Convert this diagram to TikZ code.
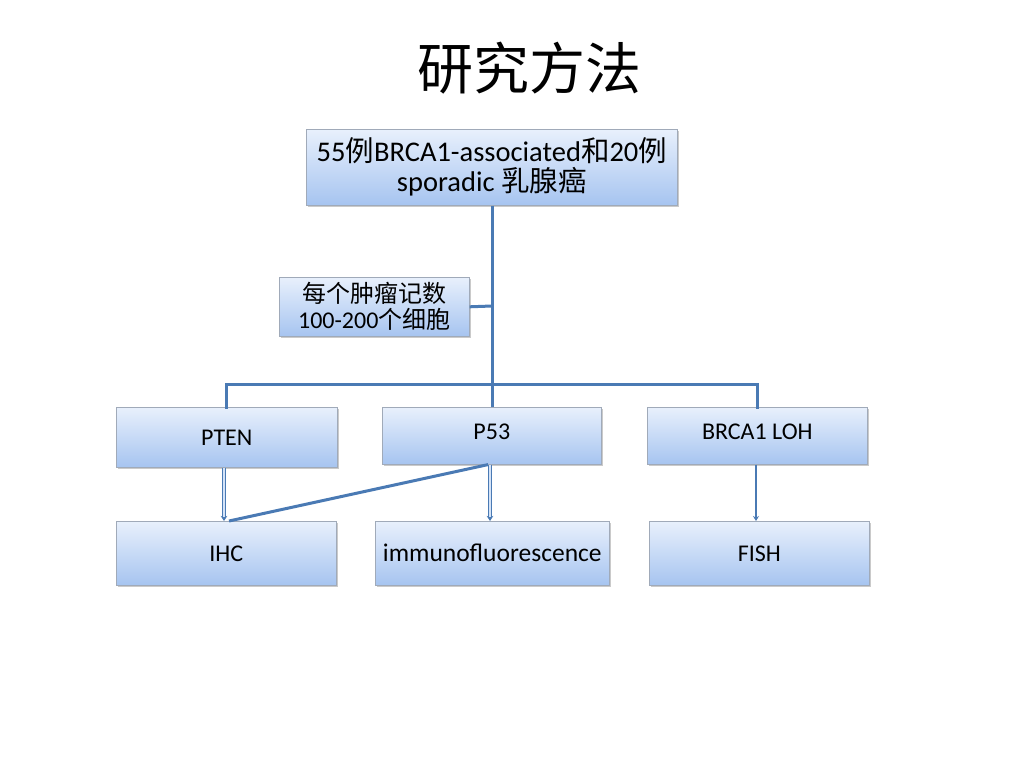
\documentclass[tikz,border=0pt]{standalone}
\usepackage{fontspec}
\setmainfont{Carlito}
\newfontfamily\cjk{Noto Sans CJK SC}
\usetikzlibrary{shadows,arrows.meta}
\definecolor{lineblue}{RGB}{74,122,180}
\definecolor{boxtop}{RGB}{232,240,252}
\definecolor{boxbot}{RGB}{166,196,240}
\definecolor{boxedge}{RGB}{160,170,185}
\tikzset{
  box/.style={draw=boxedge, line width=0.6pt, top color=boxtop, bottom color=boxbot,
    drop shadow={shadow xshift=1.5pt, shadow yshift=-1.5pt, fill=black!35, opacity=0.6},
    font=\fontsize{24}{27}\selectfont, align=center, inner sep=0pt, anchor=north west},
  conn/.style={draw=lineblue, line width=3pt},
  thinout/.style={draw=lineblue, line width=3.4pt, -{Stealth[length=5pt,width=6.5pt]}},
  thinin/.style={draw=boxtop!70!boxbot, line width=1.2pt, shorten >=4pt},
}
\begin{document}
\begin{tikzpicture}[x=1pt,y=-1pt]
\useasboundingbox (0,0) rectangle (1024,768);
\node[font=\cjk\fontsize{56}{60}\selectfont] (title) at (529,68) {研究方法};
\node[box, minimum width=371pt, minimum height=76pt, font=\fontsize{28.5}{30}\selectfont] (top) at (306,129) {55{\cjk 例}BRCA1-associated{\cjk 和}20{\cjk 例}\\sporadic {\cjk 乳腺癌}};
\node[box, minimum width=190pt, minimum height=59pt, font=\fontsize{24}{26}\selectfont] (side) at (279,277) {{\cjk 每个肿瘤记数}\\100-200{\cjk 个细胞}};
\node[box, minimum width=221pt, minimum height=60pt] (pten) at (116,407) {PTEN};
\node[box, minimum width=219pt, minimum height=57pt, text depth=8pt] (p53) at (382,407) {P53};
\node[box, minimum width=220pt, minimum height=57pt, text depth=8pt] (brca) at (647,407) {BRCA1 LOH};
\node[box, minimum width=220pt, minimum height=64pt] (ihc) at (116,521) {IHC};
\node[box, minimum width=234pt, minimum height=64pt, font=\fontsize{25.5}{27}\selectfont] (imm) at (375,521) {immunofluorescence};
\node[box, minimum width=220pt, minimum height=64pt] (fish) at (649,521) {FISH};
\coordinate (bar) at (492,384);
\coordinate (sj) at (492,306);
\coordinate (xl) at (226,0);
\coordinate (xr) at (757,0);
\coordinate (xa) at (224,0);
\coordinate (xb) at (490,0);
\coordinate (xc) at (756,0);
\coordinate (xd) at (488,0);
\coordinate (xe) at (229,0);
\draw[conn] (top.south -| bar) -- (bar);
\draw[conn] (side.east) -- (sj);
\draw[conn, line cap=rect] (pten.north -| xl) |- (bar) -| (brca.north -| xr);
\draw[conn] (bar) -- (p53.north -| bar);
\draw[thinout] (pten.south -| xa) -- (ihc.north -| xa);
\draw[thinin] (pten.south -| xa) -- (ihc.north -| xa);
\draw[thinout] (p53.south -| xb) -- (imm.north -| xb);
\draw[thinin] (p53.south -| xb) -- (imm.north -| xb);
\draw[draw=lineblue, line width=2.6pt, -{Stealth[length=5pt,width=6pt]}] (brca.south -| xc) -- (fish.north -| xc);
\draw[conn] (p53.south -| xd) -- (ihc.north -| xe);
\end{tikzpicture}
\end{document}
